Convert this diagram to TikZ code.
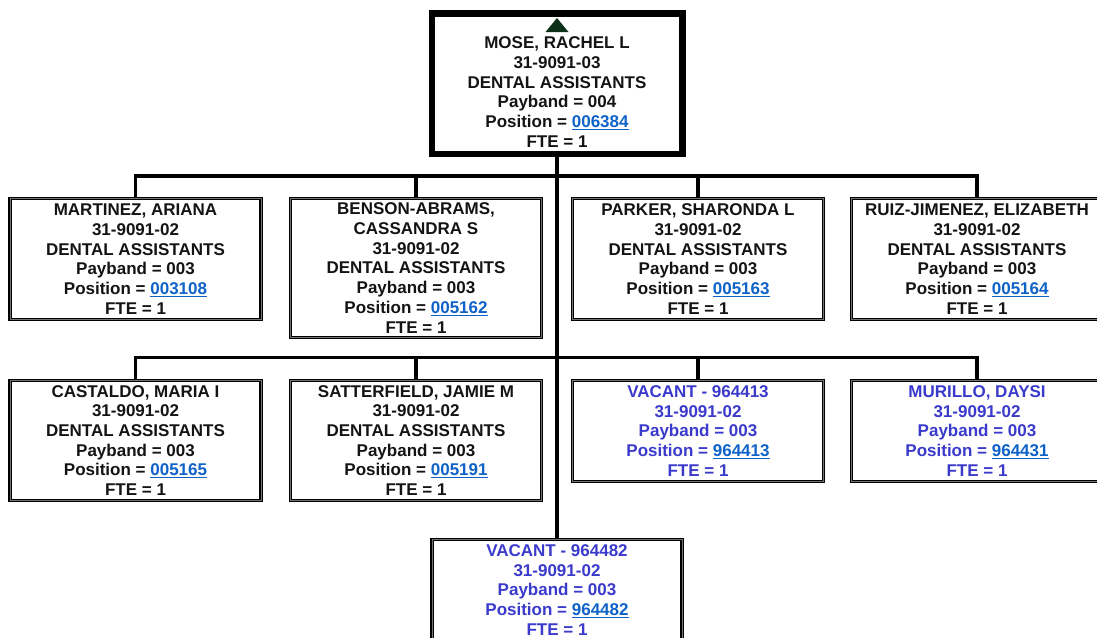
\documentclass[tikz,border=0pt]{standalone}
\usepackage{fontspec}
\setmainfont{Liberation Sans}
\usetikzlibrary{calc}
\definecolor{linkblue}{RGB}{14,98,200}
\definecolor{vacantblue}{RGB}{58,58,204}
\definecolor{markgreen}{RGB}{12,48,24}
\newcommand{\poslink}[1]{\textcolor{linkblue}{\underline{#1}}}
\tikzset{
  person/.style={draw=black, line width=1.3pt, double=black!55, double distance=0.5pt,
    fill=white, inner sep=0pt, align=center, text=black!92,
    font=\bfseries\fontsize{17}{19.7}\selectfont},
  vacant/.style={person, text=vacantblue},
  headbox/.style={draw=black, line width=6.5pt, fill=white, inner sep=0pt},
  headtext/.style={inner sep=0pt, align=center, text=black!92,
    font=\bfseries\fontsize{17}{19.7}\selectfont},
  conn/.style={draw=black, line width=3.2pt},
}
\begin{document}
\begin{tikzpicture}[x=1pt, y=-1pt]
\useasboundingbox (0,0) rectangle (1097,637);
\clip (0,0) rectangle (1097,637);

% head of the unit
\node[headbox, minimum width=250.5pt, minimum height=140.5pt] (head) at (557,83.5) {};
\fill[markgreen] (545.5,32) -- (568.5,32) -- (557,18) -- cycle;
\node[headtext] (headtxt) at (557,92.2) {MOSE, RACHEL L\\31-9091-03\\DENTAL ASSISTANTS\\Payband = 004\\Position = \poslink{006384}\\FTE = 1};

% first row
\node[person, minimum width=251pt, minimum height=121pt] (r1a) at (135.5,259)
  {MARTINEZ, ARIANA\\31-9091-02\\DENTAL ASSISTANTS\\Payband = 003\\Position = \poslink{003108}\\FTE = 1};
\node[person, minimum width=251pt, minimum height=139pt] (r1b) at (416,268)
  {BENSON-ABRAMS,\\CASSANDRA S\\31-9091-02\\DENTAL ASSISTANTS\\Payband = 003\\Position = \poslink{005162}\\FTE = 1};
\node[person, minimum width=251pt, minimum height=121pt] (r1c) at (698,259)
  {PARKER, SHARONDA L\\31-9091-02\\DENTAL ASSISTANTS\\Payband = 003\\Position = \poslink{005163}\\FTE = 1};
\node[person, minimum width=251pt, minimum height=121pt] (r1d) at (977,259)
  {RUIZ-JIMENEZ, ELIZABETH\\31-9091-02\\DENTAL ASSISTANTS\\Payband = 003\\Position = \poslink{005164}\\FTE = 1};

% second row
\node[person, minimum width=251pt, minimum height=120pt] (r2a) at (135.5,440.5)
  {CASTALDO, MARIA I\\31-9091-02\\DENTAL ASSISTANTS\\Payband = 003\\Position = \poslink{005165}\\FTE = 1};
\node[person, minimum width=251pt, minimum height=120pt] (r2b) at (416,440.5)
  {SATTERFIELD, JAMIE M\\31-9091-02\\DENTAL ASSISTANTS\\Payband = 003\\Position = \poslink{005191}\\FTE = 1};
\node[vacant, minimum width=251pt, minimum height=101pt] (r2c) at (698,431)
  {VACANT - 964413\\31-9091-02\\Payband = 003\\Position = \poslink{964413}\\FTE = 1};
\node[vacant, minimum width=251pt, minimum height=101pt] (r2d) at (977,431)
  {MURILLO, DAYSI\\31-9091-02\\Payband = 003\\Position = \poslink{964431}\\FTE = 1};

% bottom
\node[vacant, minimum width=250pt, minimum height=101pt] (r3) at (557,590)
  {VACANT - 964482\\31-9091-02\\Payband = 003\\Position = \poslink{964482}\\FTE = 1};

% connectors
\coordinate (busA) at (557,176);
\coordinate (busB) at (557,357.5);
\draw[conn] (head.south) -- (head.south |- r3.north);
\draw[conn] (r1a.north) -- (r1a.north |- busA) -- (r1d.north |- busA) -- (r1d.north);
\draw[conn] (r1b.north) -- (r1b.north |- busA);
\draw[conn] (r1c.north) -- (r1c.north |- busA);
\draw[conn] (r2a.north) -- (r2a.north |- busB) -- (r2d.north |- busB) -- (r2d.north);
\draw[conn] (r2b.north) -- (r2b.north |- busB);
\draw[conn] (r2c.north) -- (r2c.north |- busB);
\end{tikzpicture}
\end{document}
